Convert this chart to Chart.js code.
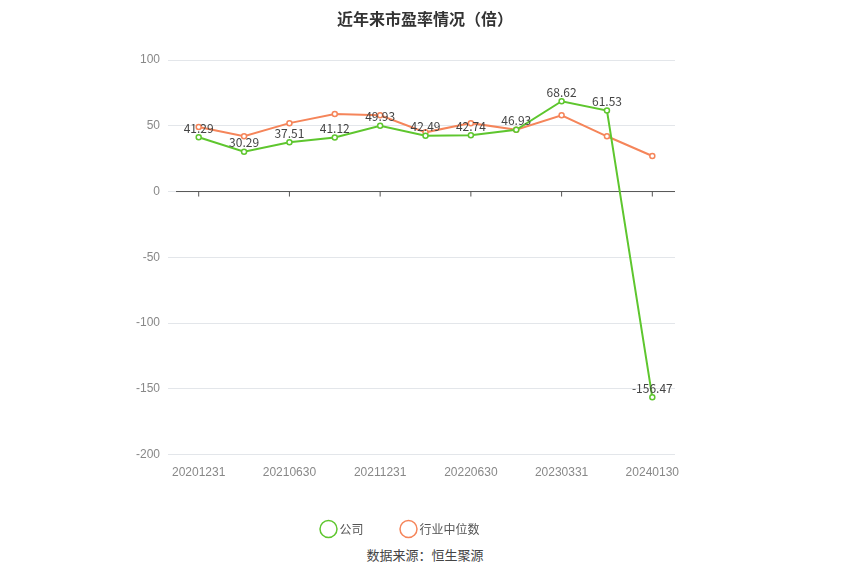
<!DOCTYPE html>
<html><head><meta charset="utf-8">
<script src="https://cdn.jsdelivr.net/npm/chart.js@4/dist/chart.umd.min.js"></script>
<style>body{margin:0;background:#fff;font-family:"Noto Sans CJK SC",sans-serif}
#w{position:absolute;left:0;top:0;width:850px;height:574px}
#src{position:absolute;top:545px;width:850px;text-align:center;font-size:13px;color:#444}</style>
</head><body>
<div id="w"><canvas id="c" width="850" height="545"></canvas></div>
<div id="src">数据来源：恒生聚源</div>
<script>
const categories=["20201231","20210331","20210630","20210930","20211231","20220331","20220630","20221231","20230331","20230630","20240130"];
const company=[41.29,30.29,37.51,41.12,49.93,42.49,42.74,46.93,68.62,61.53,-156.47];
const industry=[49,42,52,59,58,45,52,47,58,42,27];
const yTicks=[100,50,0,-50,-100,-150,-200];
const lbl={id:'lbl',afterDatasetsDraw(ch){const c=ch.ctx;const m=ch.getDatasetMeta(0);c.save();c.font='12px "Noto Sans CJK SC"';c.fillStyle='#444';c.textAlign='center';
m.data.forEach((p,i)=>{c.fillText(company[i].toFixed(2),p.x,p.y-9)});c.restore();}};
const ttl={id:'ttl',afterDraw(ch){const c=ch.ctx;c.save();c.font='bold 16px "Noto Sans CJK SC"';c.fillStyle='#333';c.textAlign='center';c.fillText('近年来市盈率情况（倍）',425,19);c.restore();}};
new Chart(document.getElementById('c'),{type:'line',
data:{labels:categories,datasets:[
{label:'公司',data:company,borderColor:'#5ec62e',backgroundColor:'#fff',borderWidth:2,pointRadius:2.5,pointBorderWidth:1.5,tension:0},
{label:'行业中位数',data:industry,borderColor:'#f5855a',backgroundColor:'#fff',borderWidth:2,pointRadius:2.5,pointBorderWidth:1.5,tension:0}]},
options:{responsive:false,animation:false,layout:{padding:{left:128,right:175,top:60,bottom:0}},
plugins:{legend:{position:'bottom',labels:{usePointStyle:true,pointStyle:'circle',boxWidth:10,color:'#555',font:{size:12,family:'"Noto Sans CJK SC"'},padding:40},
  },tooltip:{enabled:false}},
scales:{x:{offset:true,grid:{display:false,drawTicks:true},border:{display:false},
  ticks:{color:'#888',maxRotation:0,autoSkip:false,font:{size:12},callback:(v,i)=>i%2===0?categories[i]:''}},
 y:{min:-200,max:100,afterBuildTicks:a=>{a.ticks=yTicks.map(v=>({value:v}))},grid:{color:'#e3e6ea'},border:{display:false},ticks:{color:'#888',font:{size:12},padding:8}}}},
plugins:[lbl,ttl,{id:'zero',beforeDatasetsDraw(ch){const y=ch.scales.y.getPixelForValue(0),c=ch.ctx;c.save();c.strokeStyle='#555';c.beginPath();c.moveTo(ch.chartArea.left,y);c.lineTo(ch.chartArea.right,y);c.stroke();
ch.scales.x.ticks.forEach((t,i)=>{if(i%2)return;const x=ch.scales.x.getPixelForValue(i);c.beginPath();c.moveTo(x,y);c.lineTo(x,y+5);c.stroke();});c.restore();}}]});
</script></body></html>
